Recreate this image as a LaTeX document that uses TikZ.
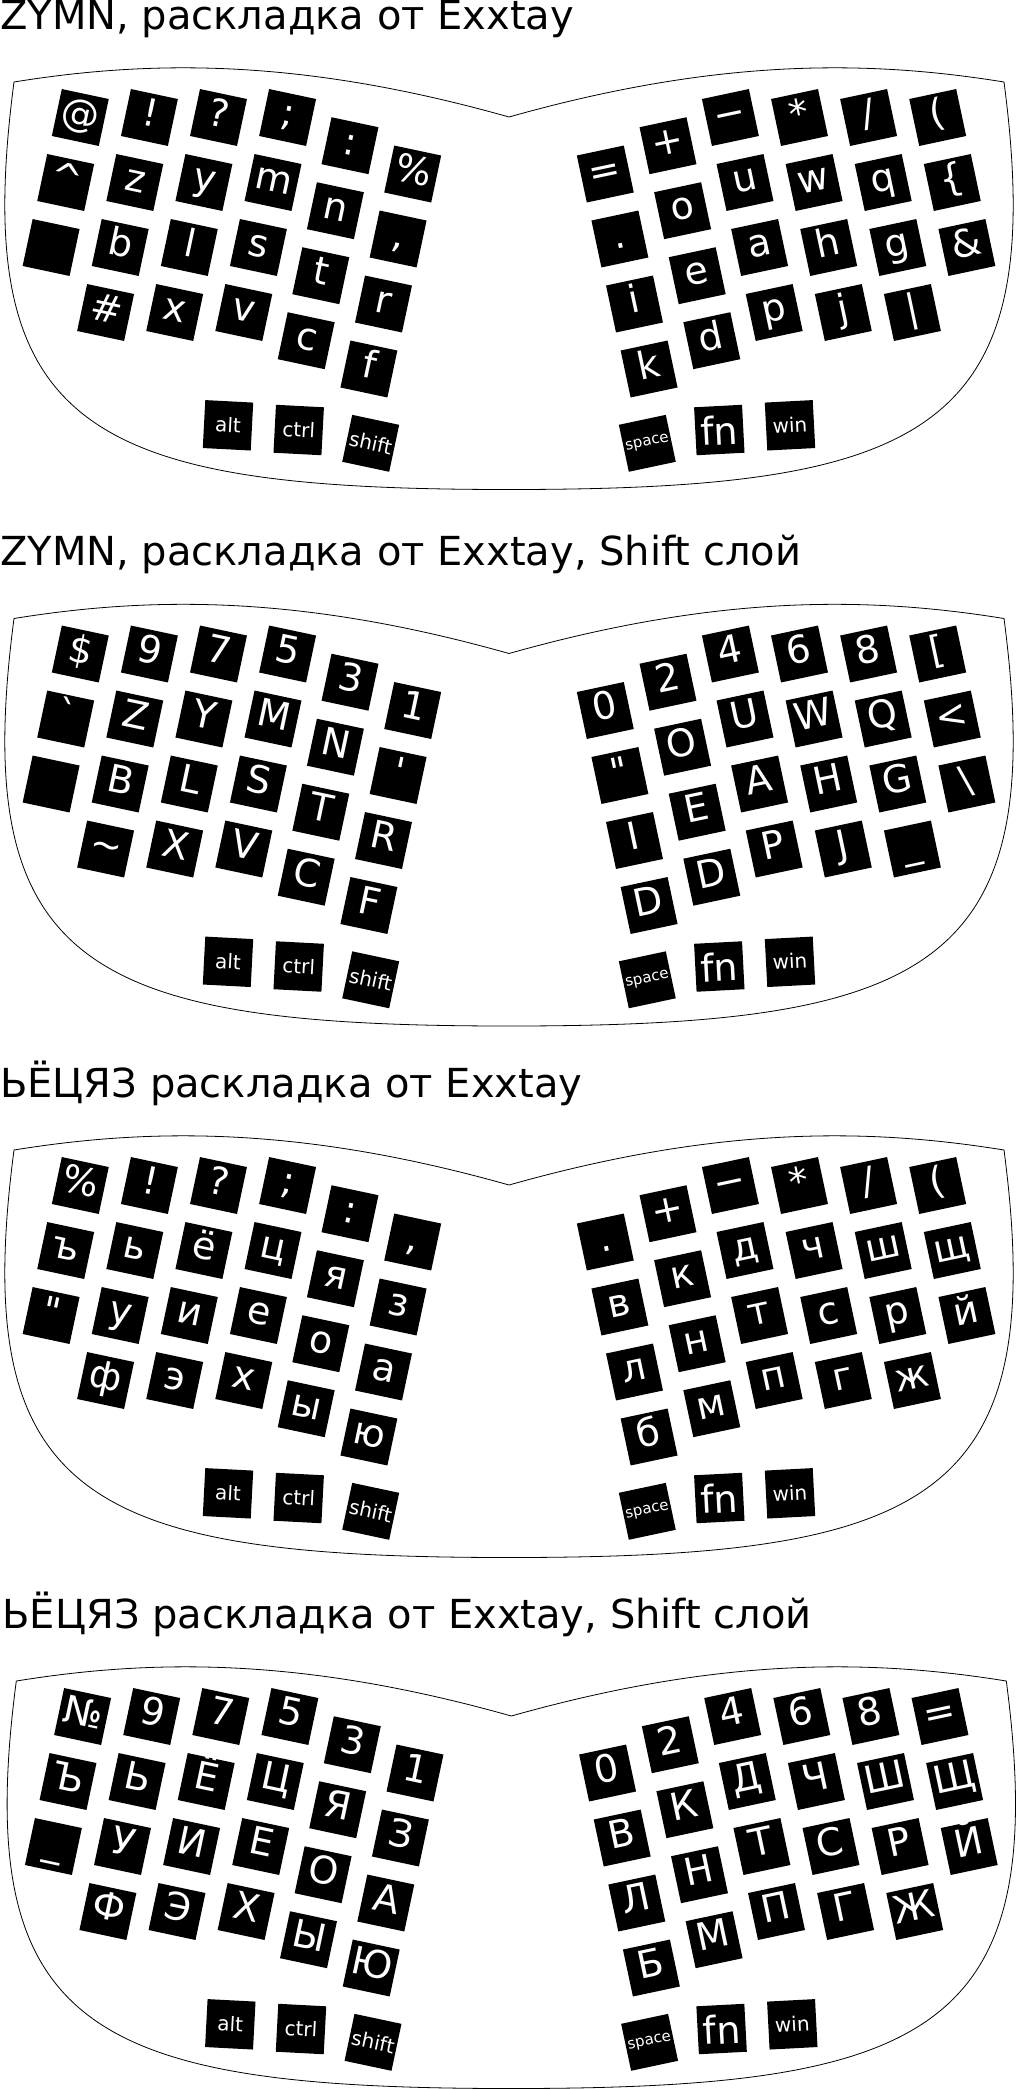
\documentclass[tikz,border=0pt]{standalone}
\usepackage{tikz}

\font\titlefnt="DejaVu Sans" at 40pt
\font\keyfnt="DejaVu Sans" at 38pt
\font\thumbfnt="DejaVu Sans" at 20pt
\font\spacefnt="DejaVu Sans" at 15pt

\tikzset{
    key/.style={fill=black, text=white, minimum size=48pt, inner sep=0pt,
        font=\keyfnt, text height=24pt, text depth=6pt},
    thumb/.style={key, font=\thumbfnt, text height=14pt, text depth=0pt},
    title/.style={anchor=base west, inner sep=0pt, font=\titlefnt},
    outline/.style={draw=black, line width=0.8pt}
}

% one row of the left half: board, row, first column, labels
\newcommand{\leftrow}[4]{%
    \foreach \lab [count=\c from #3] in {#4}{
        \pgfmathsetmacro\kx{{80.3,149.4,218.5,287.6,350,412.7}[\c]-14.6*#2}
        \pgfmathsetmacro\ky{{117.5,117.5,117.5,117.5,145.7,174}[\c]+65*#2}
        \node[key, rotate=-12] (#1-l-\c-#2) at (\kx,\ky) {\lab};
    }}
% one row of the right half, labels from left to right
\newcommand{\rightrow}[3]{%
    \foreach \lab [count=\i from 0] in {#3}{
        \pgfmathtruncatemacro\c{5-\i}
        \pgfmathsetmacro\kx{{80.3,149.4,218.5,287.6,350,412.7}[\c]}
        \pgfmathsetmacro\kx{1018-\kx+14.6*#2}
        \pgfmathsetmacro\ky{{117.5,117.5,117.5,117.5,145.7,174}[\c]+65*#2}
        \node[key, rotate=12] (#1-r-\c-#2) at (\kx,\ky) {\lab};
    }}
% case outline and thumb keys
\newcommand{\board}[2]{%
    \node[title] (#1-title) at (0,29.3) {#2};
    \draw[outline] (14,82) .. controls (150,60) and (300,58) .. (509,117)
        .. controls (718,58) and (868,60) .. (1004,82)
        .. controls (1050,432) and (929,489.5) .. (509,489.5)
        .. controls (89,489.5) and (-32,432) .. cycle;
    \node[thumb, rotate=-3] (#1-alt) at (228,425.3) {alt};
    \node[thumb, rotate=-3] (#1-ctrl) at (298.7,430) {ctrl};
    \node[thumb, rotate=-12] (#1-shift) at (370.7,443.3) {shift};
    \node[thumb, rotate=12, font=\spacefnt, text height=5pt] (#1-space) at (647.3,443.3) {space};
    \node[key, rotate=3, text height=30pt, text depth=0pt] (#1-fn) at (719.3,430) {fn};
    \node[thumb, rotate=3] (#1-win) at (790,425.3) {win};
}

\begin{document}
\begin{tikzpicture}[x=1pt, y=-1pt]
    \useasboundingbox (0,0) rectangle (1020,2089);

    % ZYMN
    \begin{scope}
        \board{a}{ZYMN, раскладка от Exxtay}
        \leftrow{a}{0}{0}{@,!,?,;,:,\%}
        \leftrow{a}{1}{0}{\string^,z,y,m,n,{,}}
        \leftrow{a}{2}{0}{{},b,l,s,t,r}
        \leftrow{a}{3}{1}{\#,x,v,c,f}
        \rightrow{a}{0}{=,+,−,*,{/},{(}}
        \rightrow{a}{1}{{.},o,u,w,q,\{}
        \rightrow{a}{2}{i,e,a,h,g,\&}
        \rightrow{a}{3}{k,d,p,j,|}
    \end{scope}

    % ZYMN, shift
    \begin{scope}[shift={(0,536.5)}]
        \board{b}{ZYMN, раскладка от Exxtay, Shift слой}
        \leftrow{b}{0}{0}{\$,9,7,5,3,1}
        \leftrow{b}{1}{0}{`,Z,Y,M,N,'}
        \leftrow{b}{2}{0}{{},B,L,S,T,R}
        \leftrow{b}{3}{1}{\string~,X,V,C,F}
        \rightrow{b}{0}{0,2,4,6,8,[}
        \rightrow{b}{1}{",O,U,W,Q,<}
        \rightrow{b}{2}{I,E,A,H,G,\textbackslash}
        \rightrow{b}{3}{D,D,P,J,\_}
    \end{scope}

    % cyrillic
    \begin{scope}[shift={(0,1068)}]
        \board{c}{ЬЁЦЯЗ раскладка от Exxtay}
        \leftrow{c}{0}{0}{\%,!,?,;,:,{,}}
        \leftrow{c}{1}{0}{ъ,ь,ё,ц,я,з}
        \leftrow{c}{2}{0}{",у,и,е,о,а}
        \leftrow{c}{3}{1}{ф,э,х,ы,ю}
        \rightrow{c}{0}{{.},+,−,*,{/},{(}}
        \rightrow{c}{1}{в,к,д,ч,ш,щ}
        \rightrow{c}{2}{л,н,т,с,р,й}
        \rightrow{c}{3}{б,м,п,г,ж}
    \end{scope}

    % cyrillic, shift
    \begin{scope}[shift={(2.3,1599)}]
        \board{d}{ЬЁЦЯЗ раскладка от Exxtay, Shift слой}
        \leftrow{d}{0}{0}{№,9,7,5,3,1}
        \leftrow{d}{1}{0}{Ъ,Ь,Ё,Ц,Я,З}
        \leftrow{d}{2}{0}{\_,У,И,Е,О,А}
        \leftrow{d}{3}{1}{Ф,Э,Х,Ы,Ю}
        \rightrow{d}{0}{0,2,4,6,8,=}
        \rightrow{d}{1}{В,К,Д,Ч,Ш,Щ}
        \rightrow{d}{2}{Л,Н,Т,С,Р,Й}
        \rightrow{d}{3}{Б,М,П,Г,Ж}
    \end{scope}
\end{tikzpicture}
\end{document}
